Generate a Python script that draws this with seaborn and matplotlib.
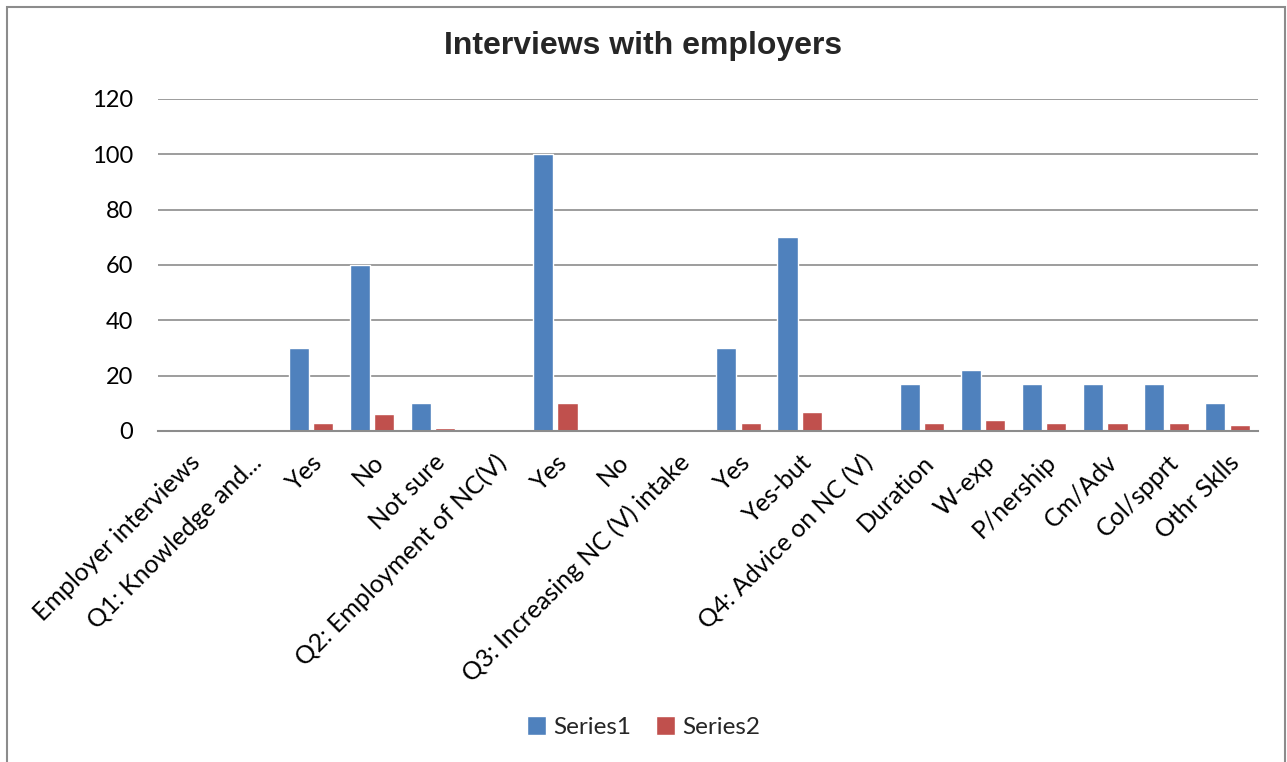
import matplotlib
matplotlib.use("Agg")
import matplotlib.pyplot as plt
import pandas as pd
import seaborn as sns
from matplotlib.patches import Rectangle

categories = [
    "Employer interviews",
    "Q1: Knowledge and...",
    "Yes",
    "No",
    "Not sure",
    "Q2: Employment of NC(V)",
    "Yes ",
    "No ",
    "Q3: Increasing NC (V) intake",
    "Yes  ",
    "Yes-but",
    "Q4: Advice on NC (V)",
    "Duration",
    "W-exp",
    "P/nership",
    "Cm/Adv",
    "Col/spprt",
    "Othr Sklls",
]
series1 = [0, 0, 30, 60, 10, 0, 100, 0, 0, 30, 70, 0, 17, 22, 17, 17, 17, 10]
series2 = [0, 0, 3, 6, 1, 0, 10, 0, 0, 3, 7, 0, 3, 4, 3, 3, 3, 2]
series_names = ["Series1", "Series2"]
colors = ["#4F81BD", "#C0504D"]

df = pd.DataFrame({
    "category": categories * 2,
    "value": series1 + series2,
    "series": [series_names[0]] * len(categories) + [series_names[1]] * len(categories),
})

sns.set_style("white")
plt.rcParams["font.family"] = ["Lato", "DejaVu Sans"]

fig = plt.figure(figsize=(12.87, 7.62), dpi=100)
ax = fig.add_axes([0.1228, 0.4344, 0.8547, 0.4357])

sns.barplot(
    data=df, x="category", y="value", hue="series",
    palette=colors, order=categories, hue_order=series_names,
    width=0.8, gap=0.18, saturation=1, ax=ax, legend=True,
)

ax.set_ylim(0, 120)
ax.set_yticks(range(0, 121, 20))
ax.set_xlim(-0.5, len(categories) - 0.5)
ax.yaxis.grid(True, color="#8c8c8c", linewidth=1.2)
ax.set_axisbelow(True)
for side in ["left", "right", "top"]:
    ax.spines[side].set_visible(False)
ax.spines["bottom"].set_color("#8c8c8c")
ax.spines["bottom"].set_linewidth(1.5)
ax.set_xlabel("")
ax.set_ylabel("")
ax.tick_params(axis="y", length=0, labelsize=17, colors="black", pad=18)
ax.tick_params(axis="x", length=0, labelsize=18, colors="black", pad=14)
ax.set_xticks(range(len(categories)))
ax.set_xticklabels([c.strip() for c in categories], rotation=45, ha="right",
                   rotation_mode="anchor")

handles, labels = ax.get_legend_handles_labels()
ax.legend_.remove()
fig.legend(handles, labels, loc="center", bbox_to_anchor=(0.5, 1 - 727 / 762),
           ncol=2, frameon=False, fontsize=17.5, handlelength=0.8, handleheight=0.8,
           handletextpad=0.3, columnspacing=1.0)

fig.text(0.5, 1 - 54 / 762, "Interviews with employers", ha="center", va="baseline",
         fontsize=23, fontweight="bold", family=["Liberation Sans", "DejaVu Sans"])

fig.patches.append(Rectangle((7 / 1287, -0.01), 1278 / 1287, 1.01 - 7 / 762,
                             transform=fig.transFigure, fill=False,
                             edgecolor="#8c8c8c", linewidth=1.5))

fig.savefig("out.png", dpi=100)
